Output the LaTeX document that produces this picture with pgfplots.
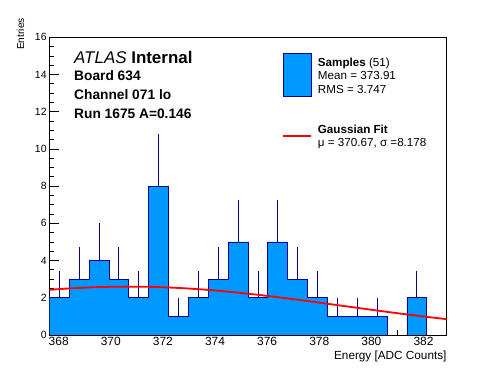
\documentclass[border=0pt]{standalone}
\usepackage{fontspec}
\setmainfont{Liberation Sans}
\usepackage{pgfplots}
\pgfplotsset{compat=1.18}
\definecolor{histfill}{RGB}{0,153,255}
\definecolor{histline}{RGB}{0,0,153}
\begin{document}
\begin{tikzpicture}
\begin{axis}[
  at={(0,0)}, anchor=south west,
  scale only axis, width=397.4bp, height=297.7bp,
  xmin=367.64, xmax=382.89, ymin=0, ymax=16,
  xtick={368,370,...,382}, ytick={0,2,...,16},
  minor x tick num=3, minor y tick num=3,
  tick align=inside, xtick pos=left, ytick pos=left,
  major tick length=10bp, minor tick length=5bp,
  axis line style={line width=0.8bp},
  every tick/.style={black, line width=0.8bp},
  /pgf/number format/assume math mode=true,
  x tick label style={font=\fontsize{12}{14}\selectfont, inner sep=0pt, anchor=north, yshift=-1.5bp},
  y tick label style={font=\fontsize{10.5}{12}\selectfont, inner sep=0pt, anchor=east, xshift=-2.5bp},
]
\addplot[const plot, fill=histfill, draw=histline, line width=0.8bp] coordinates {
(367.640,2) (368.403,3) (369.165,4) (369.928,3) (370.690,2)
(371.453,8) (372.215,1) (372.978,2) (373.740,3) (374.503,5)
(375.265,2) (376.028,5) (376.790,3) (377.553,2) (378.315,1)
(379.078,1) (379.840,1) (380.603,0) (381.365,2) (382.128,0) (382.890,0)
} \closedcycle;
\addplot[draw=none, mark=none,
  error bars/.cd, y dir=plus, y explicit, error mark=none,
  error bar style={draw=histline, line width=0.8bp}] coordinates {
(368.021,2) +- (0,1.414)
(368.784,3) +- (0,1.732)
(369.546,4) +- (0,2)
(370.309,3) +- (0,1.732)
(371.071,2) +- (0,1.414)
(371.834,8) +- (0,2.828)
(372.596,1) +- (0,1)
(373.359,2) +- (0,1.414)
(374.121,3) +- (0,1.732)
(374.884,5) +- (0,2.236)
(375.646,2) +- (0,1.414)
(376.409,5) +- (0,2.236)
(377.171,3) +- (0,1.732)
(377.934,2) +- (0,1.414)
(378.696,1) +- (0,1)
(379.459,1) +- (0,1)
(380.221,1) +- (0,1)
(381.746,2) +- (0,1.414)
};
\addplot[red, line width=1.8bp] coordinates {
(367.64,2.428) (368.0,2.465) (368.5,2.510) (369.0,2.546) (369.5,2.573)
(370.0,2.591) (370.5,2.599) (371.0,2.598) (371.5,2.587) (372.0,2.566)
(372.5,2.536) (373.0,2.497) (373.5,2.449) (374.0,2.393) (374.5,2.330)
(375.0,2.260) (375.5,2.184) (376.0,2.102) (376.5,2.017) (377.0,1.927)
(377.5,1.835) (378.0,1.740) (378.5,1.644) (379.0,1.548) (379.5,1.452)
(380.0,1.356) (380.5,1.263) (381.0,1.171) (381.5,1.082) (382.0,0.996)
(382.5,0.913) (382.89,0.851)
};
\end{axis}
% axis titles
\node[anchor=base east, inner sep=0pt, font=\fontsize{11.8}{14}\selectfont] at (397.4bp,-24bp) {Energy [ADC Counts]};
\node[anchor=base west, inner sep=0pt, rotate=90, font=\fontsize{10.2}{12}\selectfont] at (-25.3bp,285bp) {Entries};
% labels
\node[anchor=base west, inner sep=0pt, font=\fontsize{17}{20}\selectfont] at (24.7bp,271bp) {\textit{ATLAS} \textbf{Internal}};
\node[anchor=base west, inner sep=0pt, font=\fontsize{13.8}{16}\selectfont\bfseries] at (24.7bp,254bp) {Board 634};
\node[anchor=base west, inner sep=0pt, font=\fontsize{13.8}{16}\selectfont\bfseries] at (24.7bp,235.7bp) {Channel 071 lo};
\node[anchor=base west, inner sep=0pt, font=\fontsize{13.8}{16}\selectfont\bfseries] at (24.7bp,216.7bp) {Run 1675 A=0.146};
% legend
\filldraw[fill=histfill, draw=histline, line width=0.8bp] (234bp,238.3bp) rectangle (262.4bp,281.7bp);
\draw[red, line width=1.8bp] (234bp,199bp) -- (261.4bp,199bp);
\node[anchor=base west, inner sep=0pt, font=\fontsize{11.7}{14}\selectfont] at (268.4bp,268.5bp) {\textbf{Samples} (51)};
\node[anchor=base west, inner sep=0pt, font=\fontsize{11.7}{14}\selectfont] at (268.4bp,255bp) {Mean = 373.91};
\node[anchor=base west, inner sep=0pt, font=\fontsize{11.7}{14}\selectfont] at (268.4bp,241.7bp) {RMS = 3.747};
\node[anchor=base west, inner sep=0pt, font=\fontsize{11.7}{14}\selectfont] at (268.4bp,201.5bp) {\textbf{Gaussian Fit}};
\node[anchor=base west, inner sep=0pt, font=\fontsize{11.7}{14}\selectfont] at (268.4bp,188.5bp) {μ = 370.67, σ =8.178};
\path[use as bounding box] (-49.3bp,-37bp) rectangle (446.7bp,335bp);
\end{tikzpicture}
\end{document}
